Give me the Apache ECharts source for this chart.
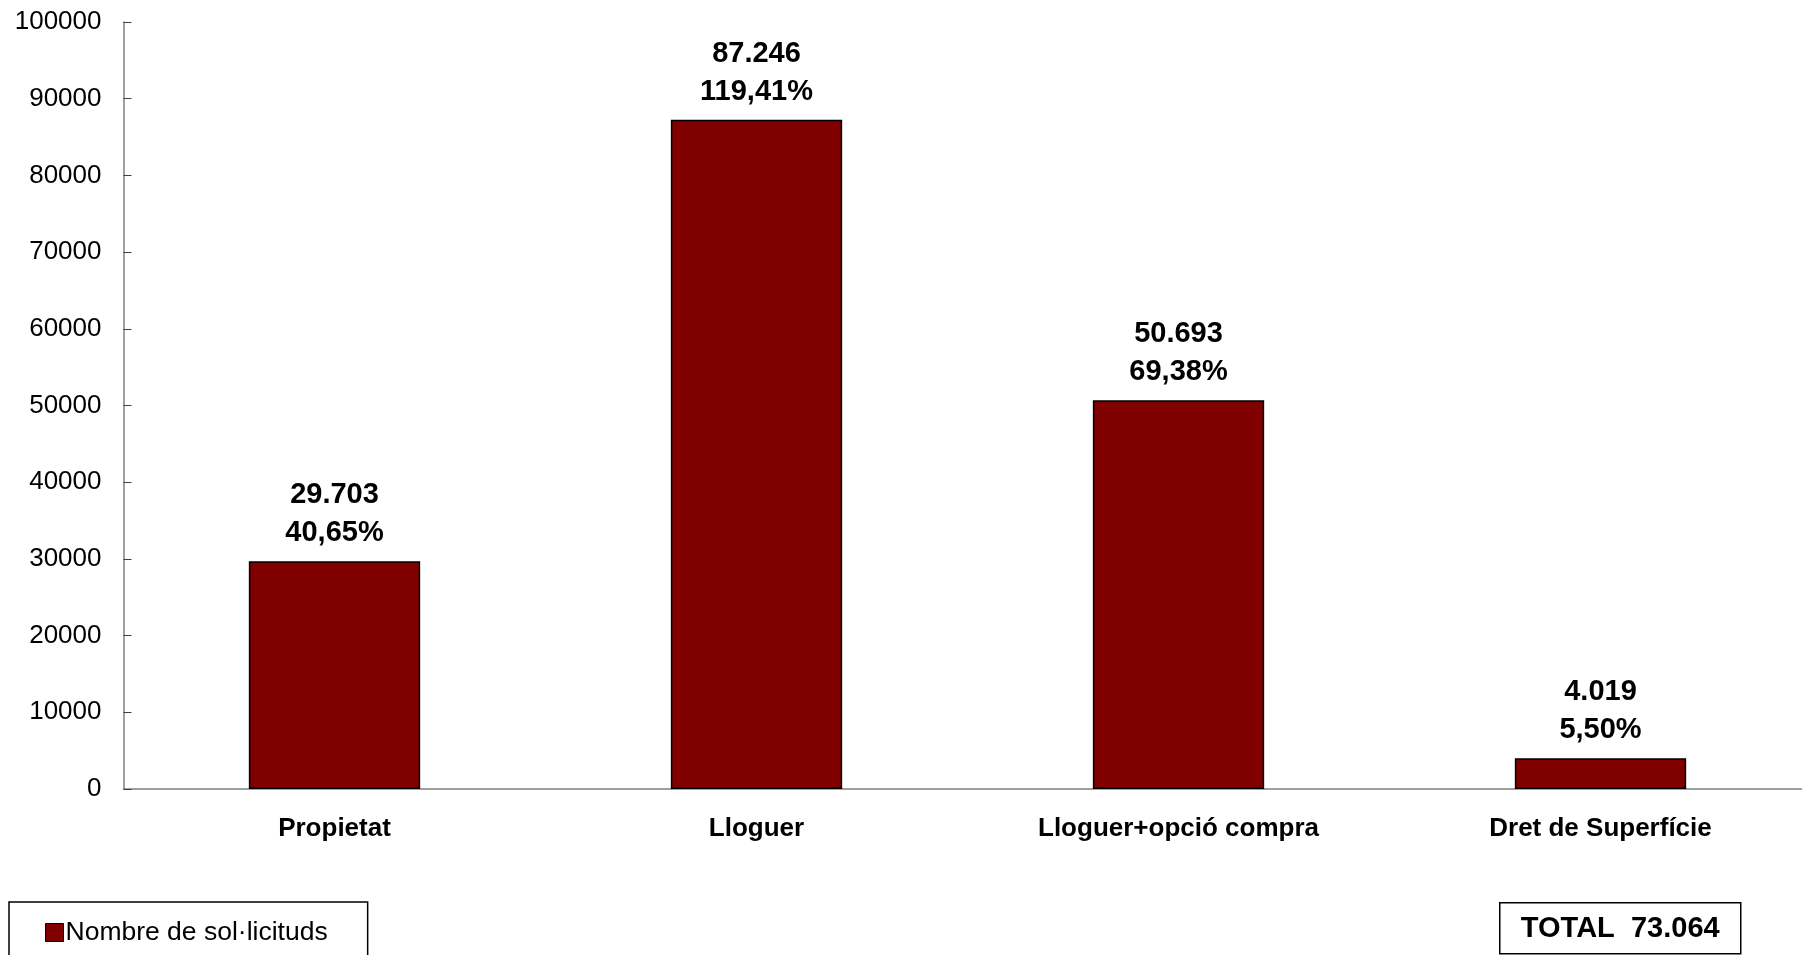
<!DOCTYPE html>
<html>
<head>
<meta charset="utf-8">
<script src="https://cdn.jsdelivr.net/npm/echarts@6/dist/echarts.min.js"></script>
<style>
html,body{margin:0;padding:0;background:#fff;}
#chart{width:1802px;height:955px;}
</style>
</head>
<body>
<div id="chart"></div>
<script>
var categories = ['Propietat', 'Lloguer', 'Lloguer+opció compra', 'Dret de Superfície'];
var values = [29703, 87246, 50693, 4019];
var percentLabels = ['40,65%', '119,41%', '69,38%', '5,50%'];
var seriesName = 'Nombre de sol·licituds';
var totalText = 'TOTAL  73.064';
var yTicks = [0, 10000, 20000, 30000, 40000, 50000, 60000, 70000, 80000, 90000, 100000];

var FONT = '"Liberation Sans", Arial, sans-serif';
function fmt(v) { return String(v).replace(/\B(?=(\d{3})+(?!\d))/g, '.'); }

var chart = echarts.init(document.getElementById('chart'));
chart.setOption({
  animation: false,
  backgroundColor: '#ffffff',
  textStyle: { fontFamily: FONT },
  grid: { left: 123.5, width: 1688, top: 22, height: 767, containLabel: false, outerBoundsMode: 'none' },
  legend: {
    left: 9, top: 902,
    padding: [17, 40, 17, 36],
    borderColor: '#000', borderWidth: 1.5,
    itemWidth: 18, itemHeight: 18, itemGap: 5,
    icon: 'rect',
    itemStyle: { borderColor: '#000', borderWidth: 1 },
    textStyle: { fontFamily: FONT, fontSize: 26.5, color: '#000', padding: [0, 0, 0, -3] },
    data: [seriesName]
  },
  xAxis: {
    type: 'category',
    data: categories,
    axisLine: { lineStyle: { color: '#808080', width: 1.5 } },
    axisTick: { inside: true, length: 8, lineStyle: { color: '#404040', width: 1 } },
    axisLabel: { margin: 27, fontFamily: FONT, fontSize: 26, fontWeight: 'bold', color: '#000', interval: 0 },
    splitLine: { show: false }
  },
  yAxis: {
    type: 'value',
    min: yTicks[0], max: yTicks[yTicks.length - 1], interval: yTicks[1] - yTicks[0],
    axisLine: { show: true, lineStyle: { color: '#808080', width: 1.5 } },
    axisTick: { show: true, inside: true, length: 8, lineStyle: { color: '#404040', width: 1 } },
    axisLabel: { margin: 22, fontFamily: FONT, fontSize: 26, color: '#000',
                 formatter: function (v) { return String(v); } },
    splitLine: { show: false }
  },
  series: [{
    name: seriesName,
    type: 'bar',
    data: values,
    barWidth: '40.6%',
    itemStyle: { color: '#800000', borderColor: '#000', borderWidth: 1.5 },
    label: {
      show: true, position: 'top', distance: 9,
      fontFamily: FONT, fontSize: 29, fontWeight: 'bold', color: '#000', lineHeight: 38,
      formatter: function (p) { return fmt(p.value) + '\n' + percentLabels[p.dataIndex]; }
    }
  }],
  graphic: [{
    type: 'group', left: 1499, top: 902,
    children: [
      { type: 'rect', shape: { x: 0, y: 0, width: 241, height: 51 },
        style: { fill: '#fff', stroke: '#000', lineWidth: 1.5 } },
      { type: 'text', x: 120.5, y: 26,
        style: { text: totalText, fontFamily: FONT, fontSize: 29, fontWeight: 'bold', fill: '#000',
                 align: 'center', verticalAlign: 'middle' } }
    ]
  }]
});
</script>
</body>
</html>
